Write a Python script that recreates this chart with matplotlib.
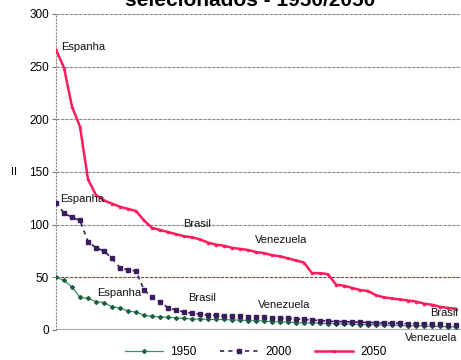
import numpy as np
import matplotlib
matplotlib.use('Agg')
import matplotlib.pyplot as plt

plt.rcParams['font.family'] = ['Liberation Sans', 'DejaVu Sans']

# valores ordenados (ranking dos paises) para cada ano
v1950 = [50, 47, 41, 31, 30, 27, 26, 22, 21, 18, 17, 14, 13, 12.5, 12, 11.5, 11,
         10.5, 10.5, 10, 10, 10, 9.5, 9.5, 9, 9, 8.5, 8, 8, 7.5, 7, 7, 6.5, 6.5,
         6, 6, 5.5, 5.5, 5, 5, 5, 4.5, 4.5, 4.5, 4, 4, 4, 3.5, 3.5, 3, 3]
v2000 = [121, 111, 107, 104, 84, 78, 75, 68, 59, 57, 56, 38, 31, 27, 21, 19, 17,
         16, 15, 14, 14, 13, 13, 13, 12.5, 12, 12, 11.5, 11, 11, 10.5, 10, 9.5,
         9, 8.5, 8, 8, 7.5, 7.5, 7, 7, 6.5, 6.5, 6.5, 6, 6, 6, 5.5, 5.5, 5, 5]
v2050 = [266, 249, 212, 193, 143, 128, 123, 120, 117, 115, 113, 104, 97, 95, 93,
         91, 89, 88, 86, 83, 81, 80, 78, 77, 76, 74, 73, 71, 70, 68, 66, 64, 54,
         54, 53, 43, 42, 40, 38, 37, 33, 31, 30, 29, 28, 27, 25, 24, 22, 21, 20]

anos = ['1950', '2000', '2050']
yticks = [0, 50, 100, 150, 200, 250, 300]

# rotulos dos paises (texto, x, y)
rotulos = [
    ('Espanha', 0.7, 269),
    ('Brasil', 15.9, 101),
    ('Venezuela', 24.9, 85),
    ('Espanha', 0.5, 124),
    ('Espanha', 5.2, 35),
    ('Brasil', 16.5, 30),
    ('Venezuela', 25.3, 24),
    ('Brasil', 46.8, 16),
    ('Venezuela', 43.6, -8),
]

fig = plt.figure(figsize=(4.61, 3.6), dpi=100)
ax = fig.add_axes([56 / 461, 30 / 360, 408 / 461, 316 / 360])

x = np.arange(len(v1950))
ax.plot(x, v1950, color='#3c8f74', lw=0.9, marker='D', ms=2,
        mfc='#1f5e3a', mec='#1f5e3a', label=anos[0], zorder=3)
ax.plot(x, v2000, color='#3b1d5e', lw=1.2, ls=(0, (2.5, 2.5)), marker='s',
        ms=2.6, mfc='#3b1d5e', mec='#3b1d5e', label=anos[1], zorder=4)
ax.plot(x, v2050, color='#ff1b5e', lw=1.8, marker='^', ms=1.5,
        mfc='#ff1b5e', mec='#ff1b5e', label=anos[2], zorder=5)

for txt, tx, ty in rotulos:
    ax.text(tx, ty, txt, fontsize=8, va='center', ha='left', color='#111111',
            clip_on=False, zorder=6)

ax.set_xlim(0, 51)
ax.set_ylim(0, 300)
ax.set_yticks(yticks)
ax.set_xticks([])
ax.tick_params(axis='y', labelsize=8.5, length=3, pad=2, color='#777777')

for yv in yticks[1:]:
    cor = '#7a4a40' if yv == 50 else '#8a8a8a'
    ax.axhline(yv, color=cor, lw=0.8, ls=(0, (3, 1)), zorder=1)
ax.axhline(0, color='#aaaaaa', lw=1.6, zorder=1)

for s in ['top', 'right', 'bottom']:
    ax.spines[s].set_visible(False)
ax.spines['left'].set_linestyle((0, (1, 2)))
ax.spines['left'].set_color('#888888')
ax.spines['left'].set_linewidth(0.8)

# titulo (parte de cima fica fora da figura)
fig.text(250 / 461, 1 - 6 / 360, 'selecionados - 1950/2050', fontsize=15,
         fontweight='bold', ha='center', va='baseline')
fig.text(14 / 461, 1 - 172 / 360, 'II', fontsize=8, ha='center', va='center')

leg = fig.legend(loc='center', bbox_to_anchor=(0.555, 0.022), ncol=3,
                 frameon=False, fontsize=8.5, handlelength=3.2,
                 columnspacing=2.0, handletextpad=0.6)

fig.savefig('out.png', dpi=100)
